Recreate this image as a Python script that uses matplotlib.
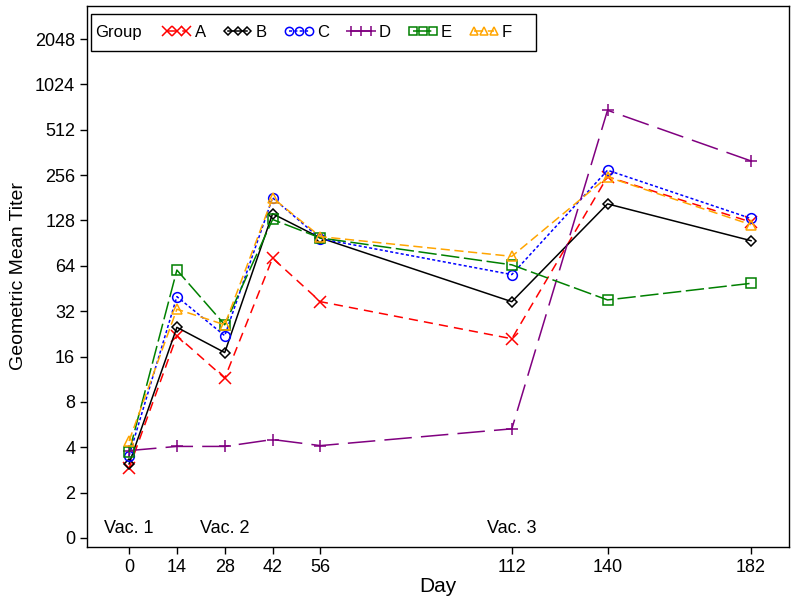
import numpy as np
import matplotlib
matplotlib.use('Agg')
import matplotlib.pyplot as plt
from matplotlib.patches import Rectangle

plt.rcParams['font.family'] = ['Liberation Sans', 'DejaVu Sans']

days = [0, 14, 28, 42, 56, 112, 140, 182]
groups = ['A', 'B', 'C', 'D', 'E', 'F']
gmt_A = [2.9, 22, 11.5, 72, 37, 21, 250, 125]
gmt_B = [3.1, 25, 17, 142, 98, 37, 165, 94]
gmt_C = [3.5, 40, 22, 181, 97, 56, 276, 132]
gmt_D = [3.8, 4.05, 4.05, 4.5, 4.1, 5.3, 690, 318]
gmt_E = [3.7, 60, 26, 130, 98, 65, 38, 49]
gmt_F = [4.4, 33, 26, 181, 100, 74, 249, 120]
ytick_vals = [0, 2, 4, 8, 16, 32, 64, 128, 256, 512, 1024, 2048]
vac_days = [0, 28, 112]
vac_labels = ['Vac. 1', 'Vac. 2', 'Vac. 3']

series = [gmt_A, gmt_B, gmt_C, gmt_D, gmt_E, gmt_F]
colors = ['red', 'black', 'blue', 'purple', 'green', 'orange']
markers = ['x', 'D', 'o', '+', 's', '^']
msizes = [8, 5, 7, 9, 7, 7]
dashes = [(6, 4), (), (2, 1.5), (18, 6), (12, 3), (6, 3)]

fig = plt.figure(figsize=(8, 5.98), dpi=100)
ax = fig.add_axes([87/800, 51/598, 702/800, 541/598])

for g, vals, c, m, ms, d in zip(groups, series, colors, markers, msizes, dashes):
    ln, = ax.plot(days, np.log2(vals), color=c, marker=m, ms=ms, mfc='none', mec=c,
                  lw=1.1, mew=1.1, label=g)
    if d:
        ln.set_dashes(d)

ax.set_xlim(-12.3, 193.1)
ax.set_ylim(-0.2, 11.73)
ax.set_xticks(days)
ax.set_yticks(np.log2(np.maximum(ytick_vals, 1)))
ax.set_yticklabels([str(v) for v in ytick_vals])
ax.tick_params(direction='out', length=5, labelsize=13, width=1)
for s in ax.spines.values():
    s.set_linewidth(1)
ax.set_xlabel('Day', fontsize=15, labelpad=1)
ax.set_ylabel('Geometric Mean Titer', fontsize=14, labelpad=6)

for vd, vl in zip(vac_days, vac_labels):
    ax.text(vd, 0.02, vl, ha='center', va='bottom', fontsize=13)

# legend: boxed, "Group" inline on the left
ax.add_patch(Rectangle((0.0057, 0.917), 0.634, 0.068, transform=ax.transAxes,
                       fill=False, ec='black', lw=1, zorder=5))
ax.text(0.0114, 0.951, 'Group', transform=ax.transAxes, ha='left', va='center',
        fontsize=12, zorder=6)
ax.legend(loc='center left', bbox_to_anchor=(0.107, 0.951), ncol=6, frameon=False,
          fontsize=12, numpoints=3, handlelength=1.75, handletextpad=0.2,
          columnspacing=1.05, borderpad=0, borderaxespad=0, markerscale=0.85)

fig.savefig('out.png', dpi=100)
